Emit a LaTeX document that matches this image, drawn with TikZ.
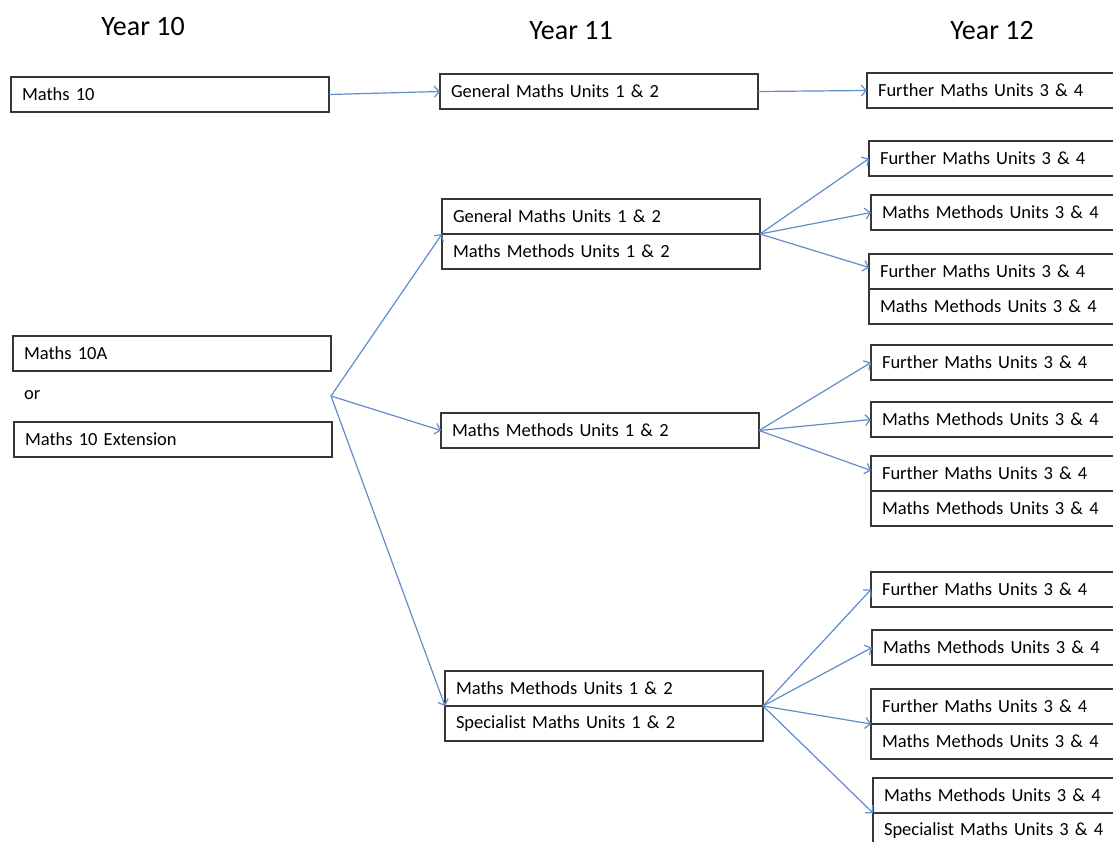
\documentclass[tikz,border=0pt]{standalone}
\usepackage{fontspec}
\setmainfont{Carlito}
\usepackage{tikz}
\usetikzlibrary{arrows.meta, positioning}
\usepackage{xcolor}
\definecolor{linkblue}{RGB}{96, 140, 200}
\definecolor{boxline}{RGB}{55, 55, 55}

\begin{document}
\begin{tikzpicture}[
    x=1pt, y=-1pt,
    subject/.style={draw=boxline, line width=1.3pt, anchor=north west,
                 minimum width=318pt, minimum height=35pt, inner xsep=11pt,
                 outer sep=0pt, text width=296pt, align=left,
                 font=\fontsize{18.5}{22}\selectfont},
    subjright/.style={subject, minimum width=300pt, text width=278pt},
    plain/.style={inner xsep=11pt, font=\fontsize{18.5}{22}\selectfont},
    yeartitle/.style={font=\fontsize{28}{34}\selectfont},
    arrow/.style={-{Straight Barb[length=5pt, width=11pt]}, linkblue,
                 line width=1.2pt},
  ]
    \useasboundingbox (0,0) rectangle (1113,841);
    \clip (0,0) rectangle (1113,841);

    % Titles
    \node[yeartitle] (y10) at (143,27) {Year 10};
    \node[yeartitle] (y11) at (571,31) {Year 11};
    \node[yeartitle] (y12) at (992,31) {Year 12};

    % Year 10
    \node[subject] (m10) at (11,77) {Maths 10};
    \node[subject] (m10a) at (13,336) {Maths 10A};
    \node[plain, anchor=west] (or) at (13,395) {or};
    \node[subject] (m10e) at (14,422) {Maths 10 Extension};
    \coordinate (split) at (331,396);

    % Year 11
    \node[subject] (gm) at (440,74) {General Maths Units 1 \& 2};
    \node[subject] (ga1) at (442,199) {General Maths Units 1 \& 2};
    \node[subject, below=0pt of ga1] (ga2) {Maths Methods Units 1 \& 2};
    \node[subject] (mb) at (441,413) {Maths Methods Units 1 \& 2};
    \node[subject] (c1) at (445,671) {Maths Methods Units 1 \& 2};
    \node[subject, below=0pt of c1] (c2) {Specialist Maths Units 1 \& 2};

    % Year 12
    \node[subjright] (fmtop) at (867,73) {Further Maths Units 3 \& 4};

    \node[subjright] (a1) at (869,141) {Further Maths Units 3 \& 4};
    \node[subjright] (a2) at (871,195) {Maths Methods Units 3 \& 4};
    \node[subjright] (a3) at (869,254) {Further Maths Units 3 \& 4};
    \node[subjright, below=0pt of a3] (a4) {Maths Methods Units 3 \& 4};

    \node[subjright] (b1) at (871,345) {Further Maths Units 3 \& 4};
    \node[subjright] (b2) at (871,402) {Maths Methods Units 3 \& 4};
    \node[subjright] (b3) at (871,456) {Further Maths Units 3 \& 4};
    \node[subjright, below=0pt of b3] (b4) {Maths Methods Units 3 \& 4};

    \node[subjright] (d1) at (871,572) {Further Maths Units 3 \& 4};
    \node[subjright] (d2) at (872,630) {Maths Methods Units 3 \& 4};
    \node[subjright] (d3) at (871,689) {Further Maths Units 3 \& 4};
    \node[subjright, below=0pt of d3] (d4) {Maths Methods Units 3 \& 4};
    \node[subjright] (d5) at (873,778) {Maths Methods Units 3 \& 4};
    \node[subjright, below=0pt of d5] (d6) {Specialist Maths Units 3 \& 4};

    % Arrows
    \draw[arrow] (m10.east) -- (gm.west);
    \draw[arrow] (gm.east) -- (fmtop.west);

    \draw[arrow] (split) -- (ga1.south west);
    \draw[arrow] (split) -- (mb.west);
    \draw[arrow] (split) -- (c1.south west);

    \draw[arrow] (ga1.south east) -- (a1.west);
    \draw[arrow] (ga1.south east) -- (a2.west);
    \draw[arrow] (ga1.south east) -- ([yshift=4pt]a3.west);

    \draw[arrow] (mb.east) -- (b1.west);
    \draw[arrow] (mb.east) -- (b2.west);
    \draw[arrow] (mb.east) -- ([yshift=3pt]b3.west);

    \draw[arrow] (c1.south east) -- (d1.west);
    \draw[arrow] (c1.south east) -- (d2.west);
    \draw[arrow] (c1.south east) -- (d3.south west);
    \draw[arrow] (c1.south east) -- (d5.south west);
  \end{tikzpicture}
\end{document}
